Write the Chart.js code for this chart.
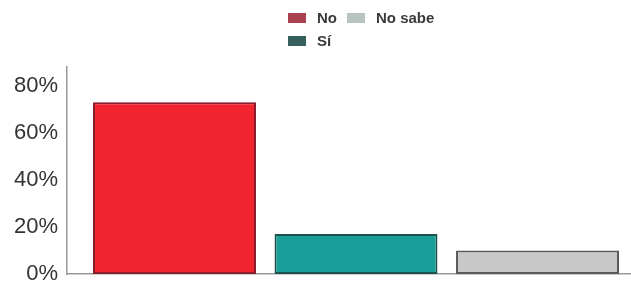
<!DOCTYPE html>
<html>
<head>
<meta charset="utf-8">
<script src="https://cdn.jsdelivr.net/npm/chart.js@4"></script>
<style>
html,body{margin:0;padding:0;background:#fff;}
#wrap{width:631px;height:283px;position:relative;}
</style>
</head>
<body>
<div id="wrap"><canvas id="c" width="631" height="283"></canvas></div>
<script>
const categories = ['No', 'Sí', 'No sabe'];
const values = [73, 17, 10];
const positions = [0, 1, 2];
const tickValues = [0, 20, 40, 60, 80];
const tickLabels = ['0%', '20%', '40%', '60%', '80%'];
const barColors = ['#f2242f', '#1a9e9a', '#c8c8c8'];
const barBorders = ['#8a1e2c', '#1d5250', '#5a5a5a'];
const legendColors = ['#a8404f', '#35605d', '#b7c3bf'];
// legend slots: [x, y] of marker top-left, per category
const legendSlots = [[288, 13], [288, 36], [347, 13]];

const datasets = [{
  label: 'Respuestas',
  data: categories.map((name, i) => ({ x: positions[i], y: values[i] })),
  backgroundColor: barColors,
  borderColor: barBorders,
  borderWidth: 2,
  borderSkipped: false,
  barPercentage: 0.898,
  categoryPercentage: 1
}];

const legendPlugin = {
  id: 'customLegend',
  afterDraw(chart) {
    const ctx = chart.ctx;
    ctx.save();
    categories.forEach((name, i) => {
      const [x, y] = legendSlots[i];
      ctx.fillStyle = legendColors[i];
      ctx.fillRect(x, y, 18, 10);
      ctx.fillStyle = '#3a3a3a';
      ctx.font = 'bold 15px "Liberation Sans", Arial, sans-serif';
      ctx.textBaseline = 'middle';
      ctx.textAlign = 'left';
      ctx.fillText(name, x + 29, y + 6);
    });
    ctx.restore();
  }
};

new Chart(document.getElementById('c'), {
  type: 'bar',
  data: { datasets },
  plugins: [legendPlugin],
  options: {
    responsive: false,
    animation: false,
    events: [],
    layout: { padding: { top: 67, bottom: 9, left: 0, right: 0 } },
    plugins: { legend: { display: false }, tooltip: { enabled: false }, title: { display: false } },
    scales: {
      x: {
        type: 'linear',
        offset: false,
        min: -0.5923,
        max: 2.515,
        grid: { display: false, drawTicks: false },
        ticks: { display: false },
        afterBuildTicks(scale) { scale.ticks = positions.map(v => ({ value: v })); },
        border: { display: true, color: '#999', width: 1.5 },
        afterFit(scale) { scale.height = 0; }
      },
      y: {
        min: 0,
        max: 88,
        grid: { display: false, drawTicks: false },
        border: { display: true, color: '#999', width: 1.5 },
        afterBuildTicks(scale) { scale.ticks = tickValues.map(v => ({ value: v })); },
        ticks: {
          padding: 9,
          color: '#333',
          font: { family: '"Liberation Sans", Arial, sans-serif', size: 22 },
          callback(value) {
            const idx = tickValues.indexOf(value);
            return idx >= 0 ? tickLabels[idx] : '';
          }
        },
        afterFit(scale) { scale.width = 67; scale.paddingTop = 0; scale.paddingBottom = 0; }
      }
    }
  }
});
</script>
</body>
</html>
